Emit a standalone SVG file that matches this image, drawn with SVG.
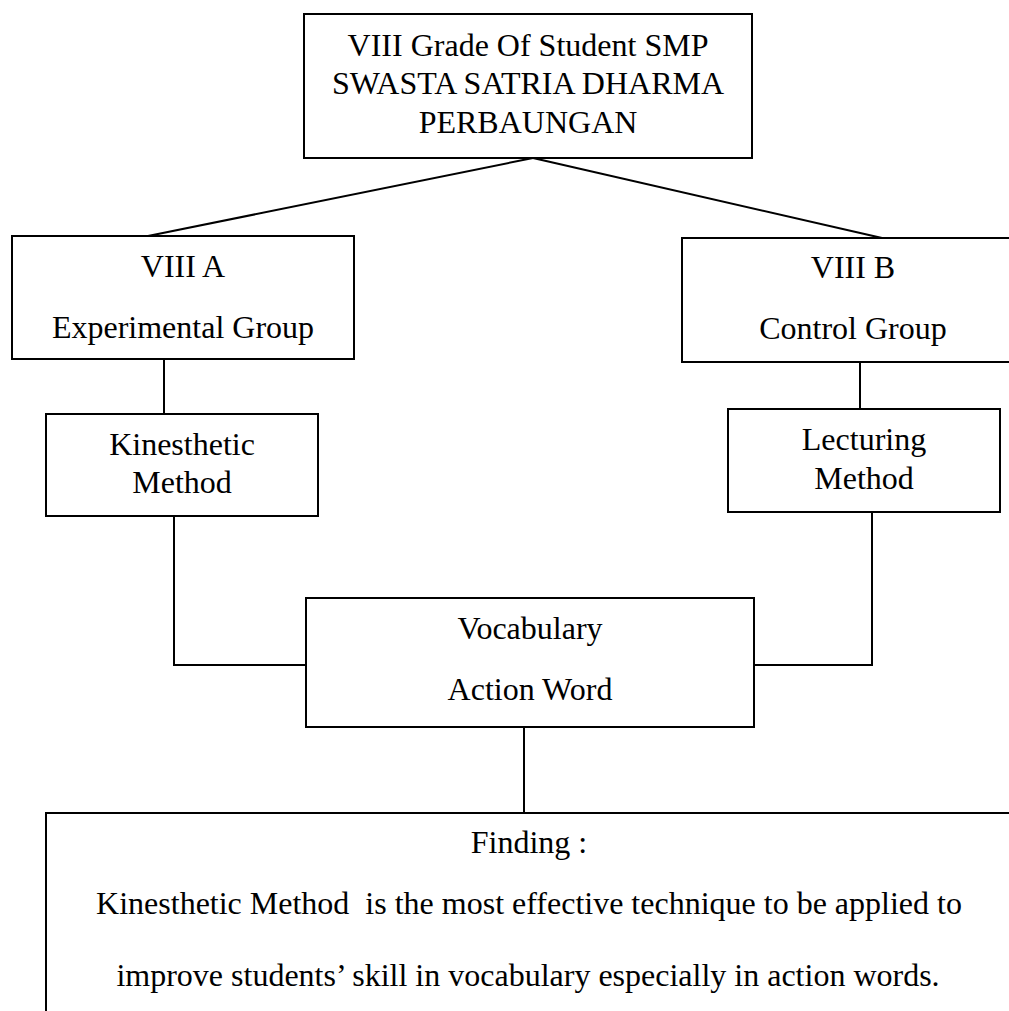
<svg xmlns="http://www.w3.org/2000/svg" width="1009" height="1011" viewBox="0 0 1009 1011">
<style>
.box{fill:#fff;stroke:#000;stroke-width:2}
.conn{fill:none;stroke:#000;stroke-width:2}
text{font-family:"Liberation Serif","Times New Roman",serif;font-size:32px;fill:#000;text-anchor:middle}
</style>
<rect x="0" y="0" width="1009" height="1011" fill="#fff"/>
<g id="connectors">
<line class="conn" x1="533" y1="158" x2="148" y2="236"/>
<line class="conn" x1="533" y1="158" x2="882" y2="238"/>
<line class="conn" x1="164" y1="359" x2="164" y2="414"/>
<line class="conn" x1="860" y1="362" x2="860" y2="409"/>
<polyline class="conn" points="174,516 174,665 306,665"/>
<polyline class="conn" points="872,512 872,665 754,665"/>
<line class="conn" x1="524" y1="727" x2="524" y2="813"/>
</g>
<g id="school">
<rect class="box" x="304" y="14" width="448" height="144"/>
<text x="528" y="56">VIII Grade Of Student SMP</text>
<text x="528" y="94">SWASTA SATRIA DHARMA</text>
<text x="528" y="133">PERBAUNGAN</text>
</g>
<g id="viii-a">
<rect class="box" x="12" y="236" width="342" height="123"/>
<text x="183" y="277">VIII A</text>
<text x="183" y="338">Experimental Group</text>
</g>
<g id="viii-b">
<rect class="box" x="682" y="238" width="342" height="124"/>
<text x="853" y="278">VIII B</text>
<text x="853" y="339">Control Group</text>
</g>
<g id="kinesthetic">
<rect class="box" x="46" y="414" width="272" height="102"/>
<text x="182" y="455">Kinesthetic</text>
<text x="182" y="493">Method</text>
</g>
<g id="lecturing">
<rect class="box" x="728" y="409" width="272" height="103"/>
<text x="864" y="450">Lecturing</text>
<text x="864" y="489">Method</text>
</g>
<g id="vocabulary">
<rect class="box" x="306" y="598" width="448" height="129"/>
<text x="530" y="639">Vocabulary</text>
<text x="530" y="700">Action Word</text>
</g>
<g id="finding">
<rect class="box" x="46" y="813" width="966" height="230"/>
<text x="529" y="853">Finding :</text>
<text x="529" y="914" xml:space="preserve">Kinesthetic Method  is the most effective technique to be applied to</text>
<text x="528" y="986">improve students’ skill in vocabulary especially in action words.</text>
</g>
</svg>
